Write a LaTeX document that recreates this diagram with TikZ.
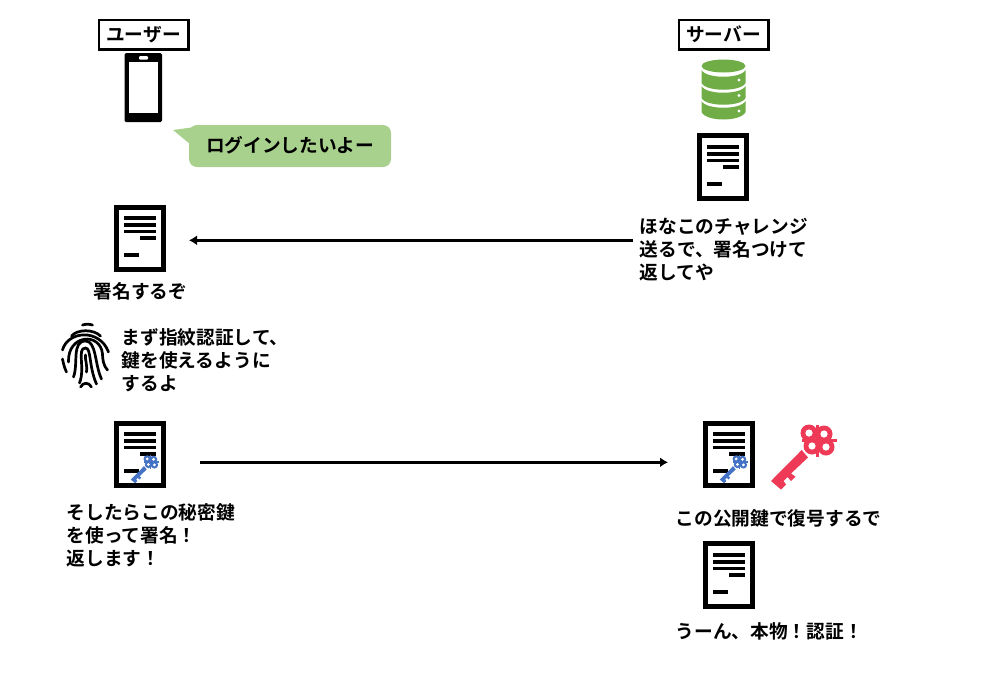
\documentclass[tikz,border=0pt]{standalone}
\usepackage{fontspec}
\setmainfont{Noto Sans CJK JP}[BoldFont={* Bold}]
\usetikzlibrary{arrows.meta}

\definecolor{bubblegreen}{HTML}{A9D18E}
\definecolor{dbgreen}{HTML}{70AD47}
\definecolor{keyblue}{HTML}{4472C4}
\definecolor{keyred}{HTML}{EE3A57}

\tikzset{
	label/.style={font=\bfseries\fontsize{18.7}{23}\selectfont, align=left, inner sep=0pt, text=black},
	actor/.style={draw, line width=2.5pt, font=\bfseries\fontsize{18.7}{20}\selectfont, minimum width=89.5pt, minimum height=29.5pt, inner sep=0pt},
	flow/.style={line width=3pt, -{Latex[length=8pt,width=10pt]}},
	pics/docicon/.style={code={
		\node[draw, line width=5pt, minimum width=47pt, minimum height=62.5pt, inner sep=0pt] (-box) at (0,0) {};
		\fill (-16,-22.3) rectangle (16,-18);
		\fill (-16,-15.3) rectangle (16,-11.5);
		\fill (-16,-8.5) rectangle (16,-5);
		\fill (0,-2) rectangle (16,2);
		\fill (-16,14.7) rectangle (-1,18.7);
	}},
	pics/keyicon/.style={code={
		\fill (5,-23.5) circle (8.5) (20,-22.5) circle (8.5) (8,-10.5) circle (8.5) (22,-9.5) circle (8.5);
		\fill (11.5,-32) rectangle (14.5,0);
		\fill (-2,-18) rectangle (33,-15);
		\fill (-2.3,-6.5) -- (-33,24.5) -- (-23,33) -- (-18,28) -- (-20.5,24.5) -- (-16.5,20.5) -- (-13,24.5) -- (-8.5,20) -- (-13,17) -- (4,1) -- cycle;
		\fill[white] (5,-23.5) circle (3.6) (20,-22.5) circle (3.6) (8,-10.5) circle (3.6) (22,-9.5) circle (3.6);
	}},
}

\begin{document}
\begin{tikzpicture}[x=1pt, y=-1pt]
	\useasboundingbox (0,0) rectangle (1000,686);

	% left side
	\node[actor] (user) at (143.5,34.5) {ユーザー};
	\fill[rounded corners=1.5pt] (124.5,53) rectangle (162,122);
	\fill[white] (129,62) rectangle (158,112.7);
	\fill[white, rounded corners=1pt] (139,56) rectangle (148,59.5);
	\fill[bubblegreen, rounded corners=8pt] (189,125) rectangle (391,167);
	\fill[bubblegreen] (173,130) -- (195,127) -- (190,144) -- cycle;
	\node[label] (hello) at (290,145) {ログインしたいよー};

	\pic (d1) at (140,238.3) {docicon};
	\node[label, anchor=west] (sign) at (93.5,291) {署名するぞ};

	% fingerprint
	\begin{scope}[shift={(85.5,356)}, line width=2.7pt, line cap=round]
		\draw (-3,-31) .. controls (0,-32) and (4,-32) .. (7,-31);
		\draw (-14,-20) .. controls (-8,-27) and (8,-27) .. (15,-20);
		\draw (-23,-6) .. controls (-18,-25) and (14,-28) .. (23,-4);
		\draw (-23,3) .. controls (-22,8) and (-21,12) .. (-19,16);
		\draw (-17,6) .. controls (-18,-22) and (15,-24) .. (17,-2) .. controls (17,3) and (18,10) .. (22,14);
		\draw (-12,21) .. controls (-7,8) and (-14,-15) .. (0,-15) .. controls (11,-15) and (9,8) .. (16,23);
		\draw (-6,27) .. controls (0,12) and (-9,-8) .. (0,-8) .. controls (6,-8) and (3,10) .. (11,28);
		\draw (1,16) .. controls (2,8) and (-1,2) .. (0,-1);
		\draw (-5,31) .. controls (-2,26) and (3,26) .. (6,31);
	\end{scope}
	\node[label, anchor=north west] (finger) at (121.5,328.6) {まず指紋認証して、\\鍵を使えるように\\するよ};

	\pic (d2) at (140,454.3) {docicon};
	\pic[keyblue, scale=0.43] (k2) at (145,469) {keyicon};
	\node[label, anchor=north west] (secret) at (66.5,503.6) {そしたらこの秘密鍵\\を使って署名！\\返します！};

	% right side
	\node[actor] (server) at (723.5,34.5) {サーバー};
	\fill[dbgreen] (723.5,66) ellipse [x radius=22, y radius=6.5];
	\fill[dbgreen] (701.5,70) .. controls (706,79) and (741,79) .. (745.5,70) -- (745.5,83) .. controls (741,92) and (706,92) .. (701.5,83) -- cycle;
	\fill[dbgreen] (701.5,86) .. controls (706,95) and (741,95) .. (745.5,86) -- (745.5,98) .. controls (741,107) and (706,107) .. (701.5,98) -- cycle;
	\fill[dbgreen] (701.5,101) .. controls (706,110) and (741,110) .. (745.5,101) -- (745.5,112) .. controls (741,122) and (706,122) .. (701.5,112) -- cycle;
	\foreach \dy in {80,95.5,111}
		\fill[white] (739,\dy) circle (1.7);

	\pic (d3) at (723,167) {docicon};
	\node[label, anchor=north west] (challenge) at (639.5,217.6) {ほなこのチャレンジ\\送るで、署名つけて\\返してや};

	\pic (d4) at (729,454.3) {docicon};
	\pic[keyblue, scale=0.43] (k4) at (734,469) {keyicon};
	\pic[keyred] (k5) at (804,456.5) {keyicon};
	\node[label, anchor=west] (pubkey) at (675.5,518) {この公開鍵で復号するで};
	\pic (d5) at (729,575) {docicon};
	\node[label, anchor=west] (real) at (675.5,631) {うーん、本物！認証！};

	\draw[flow, shorten <=6.5pt, shorten >=23pt] ([yshift=-2pt]d1-box.east -| challenge.west) -- ([yshift=-2pt]d1-box.east);
	\draw[flow, shorten <=34pt, shorten >=35pt] ([yshift=-8pt]d2-box.east) -- ([yshift=-8pt]d4-box.west);
\end{tikzpicture}
\end{document}
